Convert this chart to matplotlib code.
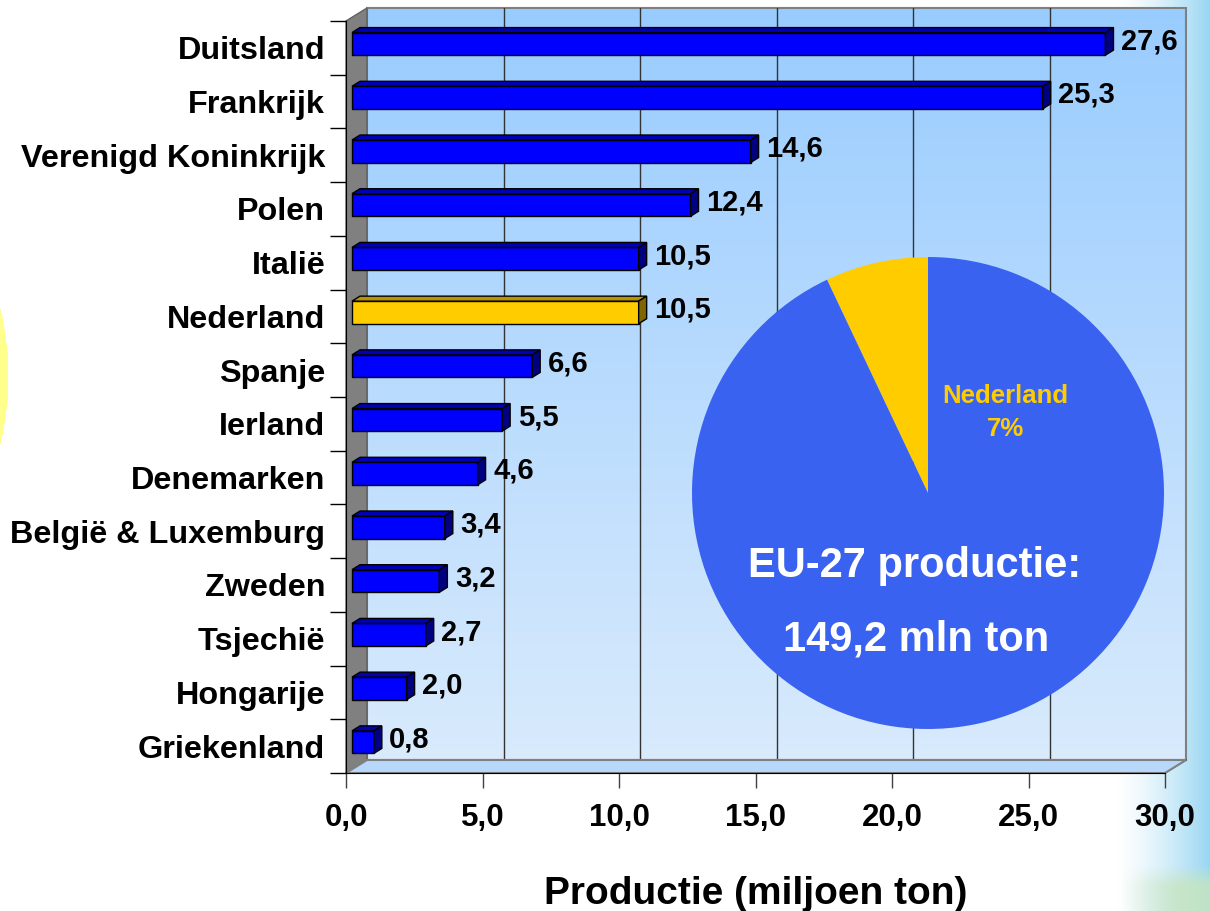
import numpy as np
import matplotlib
matplotlib.use("Agg")
import matplotlib.pyplot as plt
import matplotlib.transforms as transforms
from matplotlib.patches import Polygon, Rectangle

# data
landen = ["Duitsland", "Frankrijk", "Verenigd Koninkrijk", "Polen", "Italië",
          "Nederland", "Spanje", "Ierland", "Denemarken", "België & Luxemburg",
          "Zweden", "Tsjechië", "Hongarije", "Griekenland"]
productie = [27.6, 25.3, 14.6, 12.4, 10.5, 10.5, 6.6, 5.5, 4.6, 3.4, 3.2, 2.7, 2.0, 0.8]
eu_totaal = 149.2
nl_productie = 10.5
x_ticks = [0, 5, 10, 15, 20, 25, 30]

plt.rcParams['font.family'] = ['Liberation Sans', 'DejaVu Sans']
plt.rcParams['font.weight'] = 'bold'

W, H = 1210, 911
fig = plt.figure(figsize=(W / 100, H / 100), dpi=100)


def fr(x, y):
    # pixel (top-left origin) -> figure fraction
    return (x / W, 1 - y / H)


# background: white with blue/green fade on the right and a yellow sun at the left
yy, xx = np.mgrid[0:H, 0:W]
bg = np.ones((H, W, 3))
t = np.clip((xx - 1115) / 95.0, 0, 1) ** 1.4
blue = np.array([0.60, 0.84, 0.95])
bg = bg * (1 - t[..., None]) + blue * t[..., None]
g = np.clip((yy - 865) / 20.0, 0, 1) * np.clip((xx - 1120) / 60.0, 0, 1)
green = np.array([0.78, 0.90, 0.74])
bg = bg * (1 - g[..., None] * 0.8) + green * (g[..., None] * 0.8)
sun = (xx + 281) ** 2 + (yy - 376) ** 2 < 289 ** 2
bg[sun] = [1.0, 1.0, 0.55]
fig.figimage(bg, xo=0, yo=0, origin='upper', zorder=0)

# geometry of the 3D plot box (pixels)
FX0, FX1, FYB, FYT = 346, 1165, 773, 21
DX, DY = 21, 13
px_x = (FX1 - FX0) / 30.0
px_y = (FYB - FYT) / len(landen)

# back wall
wall = fig.add_axes([(FX0 + DX) / W, 1 - (FYB - DY) / H, (FX1 - FX0) / W, (FYB - FYT) / H], zorder=1)
grad = np.linspace(0, 1, 256)[:, None]
top_c = np.array([0.60, 0.80, 1.0])
bot_c = np.array([0.85, 0.92, 0.99])
wall_img = top_c * (1 - grad[..., None]) + bot_c * grad[..., None]
wall.imshow(wall_img, extent=[0, 30, 0, 1], aspect='auto', origin='upper')
wall.set_xlim(0, 30)
wall.set_ylim(0, 1)
for xt in x_ticks[1:-1]:
    wall.axvline(xt, color='#333333', lw=1)
wall.set_axis_off()
wall.add_patch(Rectangle((0, 0), 1, 1, transform=wall.transAxes, fill=False,
                         ec='#808080', lw=1.5, clip_on=False))

# left wall and floor
fig.patches.append(Polygon([fr(FX0, FYB), fr(FX0, FYT), fr(FX0 + DX, FYT - DY), fr(FX0 + DX, FYB - DY)],
                           closed=True, fc='#808080', ec='#606060', lw=1,
                           transform=fig.transFigure, zorder=2))
fig.patches.append(Polygon([fr(FX0, FYB), fr(FX1, FYB), fr(FX1 + DX, FYB - DY), fr(FX0 + DX, FYB - DY)],
                           closed=True, fc='#b8d8fb', ec='#808080', lw=1.5,
                           transform=fig.transFigure, zorder=2))
for xt in x_ticks:
    xf = FX0 + xt * px_x
    fig.lines.append(plt.Line2D([xf / W, (xf + DX) / W], [1 - FYB / H, 1 - (FYB - DY) / H],
                                color='#333333', lw=1, transform=fig.transFigure, zorder=2))

# main axes (front)
ax = fig.add_axes([FX0 / W, 1 - FYB / H, (FX1 - FX0) / W, (FYB - FYT) / H], zorder=3)
ax.patch.set_visible(False)

ypos = np.arange(len(landen))
front = ['#ffcc00' if l == 'Nederland' else '#0000ff' for l in landen]
topc = ['#b89400' if l == 'Nederland' else '#0000b4' for l in landen]
side = ['#806600' if l == 'Nederland' else '#000080' for l in landen]

off = transforms.offset_copy(ax.transData, fig=fig, x=6 * 0.72, y=4 * 0.72, units='points')
bars = ax.barh(ypos, productie, height=0.42, color=front, edgecolor='black', lw=1,
               transform=off, zorder=3)
dxd = 8 / px_x
dyd = -5 / px_y
for r, tc, sc in zip(bars, topc, side):
    x0, w, y0, h = r.get_x(), r.get_width(), r.get_y(), r.get_height()
    ax.add_patch(Polygon([(x0, y0), (x0 + w, y0), (x0 + w + dxd, y0 + dyd), (x0 + dxd, y0 + dyd)],
                         closed=True, fc=tc, ec='black', lw=1, transform=off, zorder=3))
    ax.add_patch(Polygon([(x0 + w, y0), (x0 + w + dxd, y0 + dyd), (x0 + w + dxd, y0 + h + dyd), (x0 + w, y0 + h)],
                         closed=True, fc=sc, ec='black', lw=1, transform=off, zorder=3))

for i, v in enumerate(productie):
    ax.annotate(f"{v:.1f}".replace('.', ','), xy=(v, i), xytext=(15.5, 4.8),
                textcoords='offset points', ha='left', va='center',
                fontsize=21, fontweight='bold')

ax.set_xlim(0, 30)
ax.set_ylim(len(landen) - 0.5, -0.5)
ax.set_xticks(x_ticks)
ax.set_xticklabels([f"{t:.1f}".replace('.', ',') for t in x_ticks])
ax.set_yticks(ypos)
ax.set_yticklabels(landen)
ax.set_yticks(np.arange(len(landen) + 1) - 0.5, minor=True)
ax.tick_params(axis='x', direction='out', length=10.8, width=1, color='#404040',
               labelsize=22.5, pad=11)
ax.tick_params(axis='y', which='major', length=0, labelsize=23.3, pad=15)
ax.tick_params(axis='y', which='minor', direction='out', length=11.5, width=1, color='black')
for s in ['top', 'right']:
    ax.spines[s].set_visible(False)
ax.spines['left'].set_color('black')
ax.spines['bottom'].set_color('black')
ax.set_xlabel('Productie (miljoen ton)', fontsize=28, fontweight='bold', labelpad=31)

# pie overlay
R = 236
pax = fig.add_axes([(928 - R) / W, 1 - (493 + R) / H, 2 * R / W, 2 * R / H], zorder=5)
pax.pie([nl_productie, eu_totaal - nl_productie], colors=['#ffcc00', '#3a62f0'],
        startangle=90, counterclock=True, radius=1, wedgeprops=dict(linewidth=0))
pax.set_xlim(-1, 1)
pax.set_ylim(-1, 1)
pax.set_axis_off()
pax.text(0.326, 0.41, 'Nederland', color='#ffcc00', fontsize=18.5, fontweight='bold',
         ha='center', va='center')
pax.text(0.33, 0.27, f"{nl_productie / eu_totaal * 100:.0f}%", color='#ffcc00', fontsize=18.5,
         fontweight='bold', ha='center', va='center')
pax.text(-0.055, -0.31, 'EU-27 productie:', color='white', fontsize=30, fontweight='bold',
         ha='center', va='center')
pax.text(-0.05, -0.62, f"{eu_totaal:.1f}".replace('.', ',') + ' mln ton', color='white',
         fontsize=30, fontweight='bold', ha='center', va='center')

fig.savefig('out.png', dpi=100)
